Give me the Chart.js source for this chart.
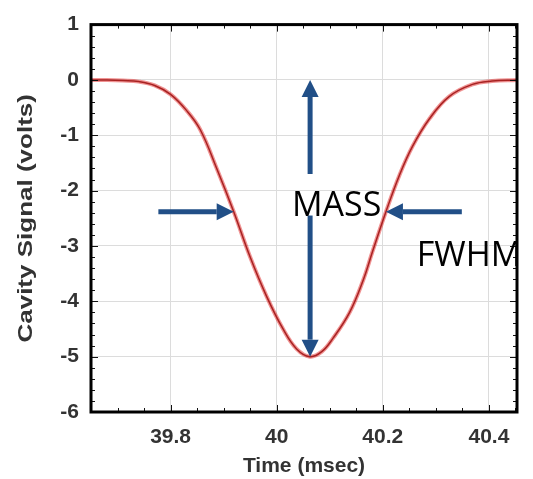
<!DOCTYPE html>
<html>
<head>
<meta charset="utf-8">
<script src="https://cdn.jsdelivr.net/npm/chart.js@4.4.0/dist/chart.umd.min.js"></script>
<style>
  html, body { margin: 0; padding: 0; background: #fff; }
  #wrap { width: 533px; height: 479px; }
</style>
</head>
<body>
<div id="wrap"><canvas id="chart" width="533" height="479"></canvas></div>
<script>
// values
const timeMs = [39.65, 39.68, 39.71, 39.74, 39.77, 39.80, 39.83, 39.856, 39.887, 39.919, 39.95, 39.981, 40.012, 40.0375, 40.0625, 40.085, 40.106, 40.1375, 40.163, 40.181, 40.206, 40.231, 40.256, 40.288, 40.325, 40.369, 40.406, 40.453];
const signalVolts = [0, 0, -0.01, -0.03, -0.1, -0.26, -0.55, -0.90, -1.60, -2.38, -3.20, -3.91, -4.50, -4.86, -5.0, -4.91, -4.67, -4.20, -3.62, -3.09, -2.38, -1.73, -1.20, -0.70, -0.30, -0.08, -0.02, 0];
const xTicks = [39.8, 40, 40.2, 40.4];
const yTicks = [-6, -5, -4, -3, -2, -1, 0, 1];

// annotation anchors, in data units
const massX = 40.063, massTop = 0, massBottom = -5, massGapTop = -1.7, massGapBottom = -2.45;
const fwhmY = -2.38;
const leftArrow = [39.777, 39.919];
const rightArrow = [40.349, 40.206];

const points = timeMs.map((t, i) => ({ x: t, y: signalVolts[i] }));
const arrowColor = '#214f87';

function arrow(ctx, x1, y1, x2, y2) {
  const ang = Math.atan2(y2 - y1, x2 - x1);
  const headLen = 17, headHalf = 8.5;
  const bx = x2 - Math.cos(ang) * headLen, by = y2 - Math.sin(ang) * headLen;
  ctx.beginPath();
  ctx.moveTo(x1, y1);
  ctx.lineTo(bx, by);
  ctx.stroke();
  ctx.beginPath();
  ctx.moveTo(x2, y2);
  ctx.lineTo(bx + Math.sin(ang) * headHalf, by - Math.cos(ang) * headHalf);
  ctx.lineTo(bx - Math.sin(ang) * headHalf, by + Math.cos(ang) * headHalf);
  ctx.closePath();
  ctx.fill();
}

const framePlugin = {
  id: 'frame',
  afterDraw(chart) {
    const { ctx, chartArea: a, scales: { x, y } } = chart;
    ctx.save();
    ctx.strokeStyle = '#111';
    ctx.lineWidth = 1;
    // minor + major ticks inside the frame
    for (let v = 39.65; v <= 40.4501; v += 0.05) {
      const px = Math.round(x.getPixelForValue(v)) + 0.5;
      const major = xTicks.some(t => Math.abs(t - v) < 1e-6);
      const len = major ? 7 : 4;
      ctx.beginPath();
      ctx.moveTo(px, a.bottom); ctx.lineTo(px, a.bottom - len);
      ctx.moveTo(px, a.top); ctx.lineTo(px, a.top + len);
      ctx.stroke();
    }
    for (let v = -6; v <= 1.0001; v += 0.2) {
      const py = Math.round(y.getPixelForValue(v)) + 0.5;
      const major = Math.abs(v - Math.round(v)) < 1e-6;
      const len = major ? 7 : 4;
      ctx.beginPath();
      ctx.moveTo(a.left, py); ctx.lineTo(a.left + len, py);
      ctx.moveTo(a.right, py); ctx.lineTo(a.right - len, py);
      ctx.stroke();
    }
    ctx.lineWidth = 3;
    ctx.strokeStyle = '#000';
    ctx.strokeRect(a.left, a.top, a.right - a.left, a.bottom - a.top);

    // y title, drawn stretched along its length like the original
    ctx.save();
    ctx.translate(26, (a.top + a.bottom) / 2);
    ctx.rotate(-Math.PI / 2);
    ctx.scale(1.3, 1);
    ctx.fillStyle = '#333';
    ctx.font = 'bold 20px "Liberation Sans", Arial, sans-serif';
    ctx.textAlign = 'center';
    ctx.textBaseline = 'middle';
    ctx.fillText('Cavity Signal (volts)', 0, 0);
    ctx.restore();

    // annotations
    ctx.strokeStyle = arrowColor;
    ctx.fillStyle = arrowColor;
    ctx.lineWidth = 5;
    const mx = x.getPixelForValue(massX);
    arrow(ctx, mx, y.getPixelForValue(massGapTop), mx, y.getPixelForValue(massTop));
    arrow(ctx, mx, y.getPixelForValue(massGapBottom), mx, y.getPixelForValue(massBottom));
    const fy = y.getPixelForValue(fwhmY);
    arrow(ctx, x.getPixelForValue(leftArrow[0]), fy, x.getPixelForValue(leftArrow[1]), fy);
    arrow(ctx, x.getPixelForValue(rightArrow[0]), fy, x.getPixelForValue(rightArrow[1]), fy);

    ctx.fillStyle = '#000';
    ctx.font = '34px "Open Sans"';
    ctx.textBaseline = 'alphabetic';
    ctx.textAlign = 'center';
    ctx.fillText('MASS', x.getPixelForValue(40.113), y.getPixelForValue(-2.46));
    ctx.textAlign = 'left';
    ctx.fillText('FWHM', x.getPixelForValue(40.264), y.getPixelForValue(-3.36));
    ctx.restore();
  }
};

const tickFont = { family: '"Liberation Sans", Arial, sans-serif', size: 21, weight: 'bold' };

new Chart(document.getElementById('chart'), {
  type: 'line',
  data: {
    datasets: [
      { data: points, borderColor: 'rgba(225,40,40,0.5)', borderWidth: 4, pointRadius: 0, tension: 0.4 },
      { data: points, borderColor: '#6e1c1c', borderWidth: 1.5, pointRadius: 0, tension: 0.4 }
    ]
  },
  options: {
    responsive: false,
    animation: false,
    layout: { padding: { left: 12, top: 19, right: 16, bottom: 0 } },
    plugins: { legend: { display: false }, tooltip: { enabled: false } },
    scales: {
      x: {
        type: 'linear',
        min: 39.65,
        max: 40.453,
        afterBuildTicks: s => { s.ticks = xTicks.map(v => ({ value: v })); },
        afterFit: s => { s.height = 67; },
        grid: { color: '#dcdcdc', drawTicks: false },
        border: { display: false },
        ticks: { color: '#333', font: tickFont, padding: 13, maxRotation: 0, callback: v => String(v) },
        title: { display: true, text: 'Time (msec)', color: '#333', font: tickFont, padding: 0 }
      },
      y: {
        min: -6,
        max: 1,
        afterBuildTicks: s => { s.ticks = yTicks.map(v => ({ value: v })); },
        afterFit: s => { s.width = 79; },
        grid: { color: '#dcdcdc', drawTicks: false },
        border: { display: false },
        ticks: { color: '#333', font: tickFont, padding: 12 },
        title: { display: false }
      }
    }
  },
  plugins: [framePlugin]
});
</script>
</body>
</html>
